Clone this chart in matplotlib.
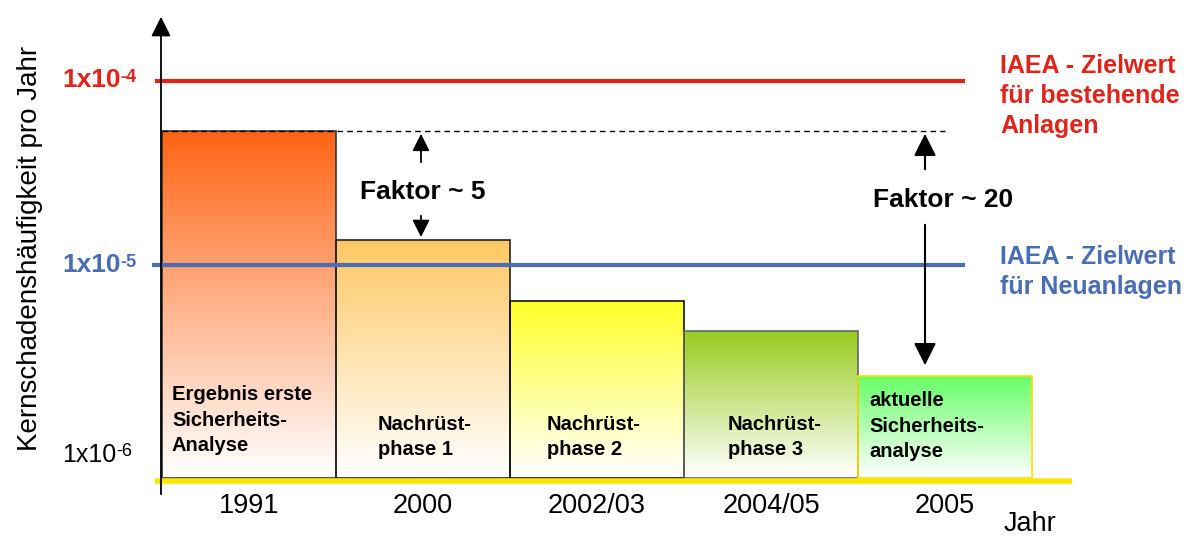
import matplotlib.pyplot as plt
import numpy as np
from matplotlib.colors import LinearSegmentedColormap

plt.rcParams['font.family'] = ['Liberation Sans', 'DejaVu Sans']

years = ['1991', '2000', '2002/03', '2004/05', '2005']
phases = ['Ergebnis erste\nSicherheits-\nAnalyse', 'Nachrüst-\nphase 1', 'Nachrüst-\nphase 2',
          'Nachrüst-\nphase 3', 'aktuelle\nSicherheits-\nanalyse']
cdf = [5.35e-5, 1.37e-5, 6.4e-6, 4.4e-6, 2.5e-6]   # Kernschadenshäufigkeit pro Jahr
target_existing = 1e-4
target_new = 1e-5
base = 6.95e-7

top_colors = ['#ff6414', '#ffc864', '#ffff28', '#99cc1e', '#66ff66']
edge_colors = ['#333333', '#222222', '#111111', '#666666', '#ffe000']
red = '#e2231a'
blue = '#4a6eb5'


def px(x):
    # pixel column -> data x (bars are 174 px wide, first starts at 162 px)
    return (x - 162) / 174


def py(y):
    # pixel row -> data value (one decade is 184 px, 1e-4 at row 81)
    return 10 ** (-4 - (y - 81) / 184)


fig = plt.figure(figsize=(11.9, 5.36), dpi=100)
ax = fig.add_axes([0, 0, 1, 1])
ax.set_yscale('log')
ax.set_xlim(px(0), px(1190))
ax.set_ylim(py(536), py(0))
ax.axis('off')

# gradient bars
for i, (v, c, ec) in enumerate(zip(cdf, top_colors, edge_colors)):
    cmap = LinearSegmentedColormap.from_list('g%d' % i, ['white', c])
    yedges = np.geomspace(base, v, 120)
    t = np.linspace(0, 1, 119)
    ax.pcolormesh([i, i + 1], yedges, t[:, None], cmap=cmap, vmin=0, vmax=1,
                  shading='flat', zorder=1)
    ax.bar(i, v - base, bottom=base, width=1, align='edge', fill=False,
           edgecolor=ec, linewidth=1.2, zorder=2)

# target lines
ax.hlines(target_existing, px(155), px(965), color=red, lw=3, zorder=3)
ax.hlines(target_new, px(152), px(965), color=blue, lw=3, zorder=3)
ax.hlines(cdf[0], 0, px(945), color='black', lw=1, linestyles=(0, (4, 3)), zorder=3)
ax.hlines(py(481), px(155), px(1072), color='#ffe600', lw=4, zorder=3)

# y axis with arrow
ax.annotate('', xy=(px(161), py(14)), xytext=(px(161), py(497)),
            arrowprops=dict(arrowstyle='-|>', color='black', lw=1.3, mutation_scale=30))

# Faktor arrows
arr5 = dict(arrowstyle='-|>', color='black', lw=1.3, mutation_scale=26)
arr20 = dict(arrowstyle='-|>', color='black', lw=1.5, mutation_scale=34)
ax.annotate('', xy=(px(421), cdf[0]), xytext=(px(421), py(165)), arrowprops=arr5)
ax.annotate('', xy=(px(421), cdf[1]), xytext=(px(421), py(213)), arrowprops=arr5)
ax.text(px(423), py(192), 'Faktor ~ 5', ha='center', va='center', fontsize=19, fontweight='bold')
ax.annotate('', xy=(px(925), cdf[0]), xytext=(px(925), py(172)), arrowprops=arr20)
ax.annotate('', xy=(px(925), py(368)), xytext=(px(925), py(222)), arrowprops=arr20)
ax.text(px(943), py(200), 'Faktor ~ 20', ha='center', va='center', fontsize=19, fontweight='bold')

# y tick labels
ax.text(px(121), py(80), '1x10', ha='right', va='center', fontsize=19, fontweight='bold', color=red)
ax.text(px(120), py(69), '-4', ha='left', va='top', fontsize=13, fontweight='bold', color=red)
ax.text(px(121), py(265), '1x10', ha='right', va='center', fontsize=19, fontweight='bold', color=blue)
ax.text(px(120), py(254), '-5', ha='left', va='top', fontsize=13, fontweight='bold', color=blue)
ax.text(px(116), py(455), '1x10', ha='right', va='center', fontsize=18, color='black')
ax.text(px(116), py(443), '-6', ha='left', va='top', fontsize=13, color='black')

ax.text(px(30), py(248), 'Kernschadenshäufigkeit pro Jahr', rotation=90,
        ha='center', va='center', fontsize=20)

# right labels
ax.text(px(1000), py(96), 'IAEA - Zielwert\nfür bestehende\nAnlagen', ha='left', va='center',
        fontsize=18, fontweight='bold', color=red, linespacing=1.3)
ax.text(px(1000), py(272), 'IAEA - Zielwert\nfür Neuanlagen', ha='left', va='center',
        fontsize=18, fontweight='bold', color=blue, linespacing=1.3)

# bar labels
label_x = [172, 378, 547, 728, 869]
label_y = [420, 437, 437, 437, 426]
for lx, ly, txt in zip(label_x, label_y, phases):
    ax.text(px(lx), py(ly), txt, ha='left', va='center', fontsize=14.5, fontweight='bold',
            linespacing=1.45, zorder=4)

# x labels
for i, yr in enumerate(years):
    ax.text(i + 0.5, py(506), yr, ha='center', va='center', fontsize=19.5)
ax.text(px(1030), py(524), 'Jahr', ha='center', va='center', fontsize=19.5)

fig.savefig('out.png', dpi=100)
